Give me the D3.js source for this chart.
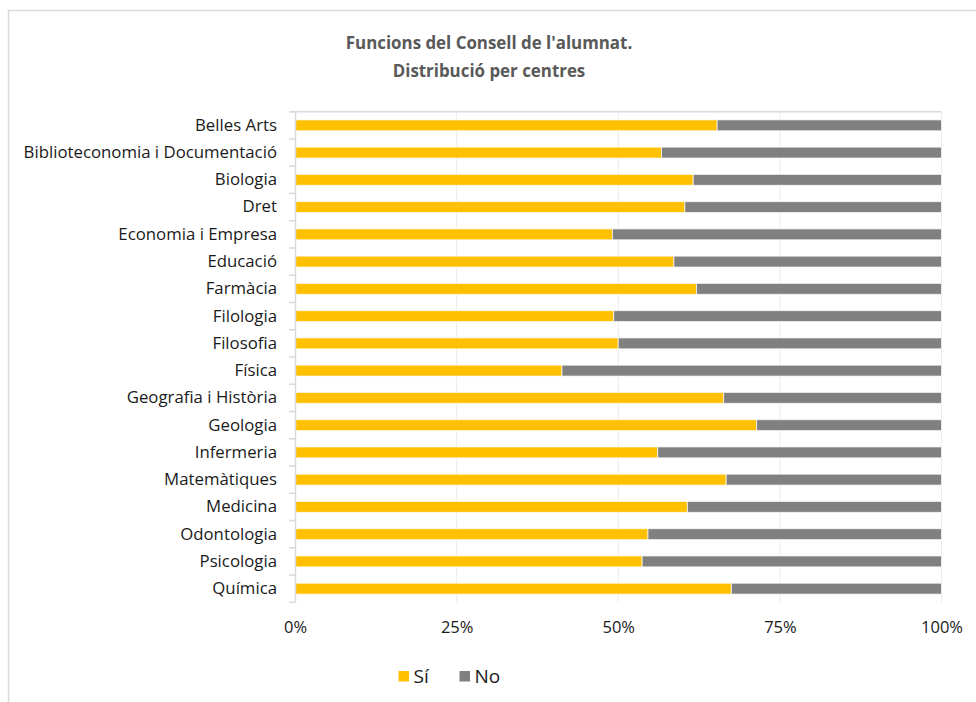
<!DOCTYPE html>
<html>
<head>
<meta charset="utf-8">
<script src="https://cdn.jsdelivr.net/npm/d3@7"></script>
<style>
  html, body { margin: 0; padding: 0; background: #fff; }
  svg { display: block; font-family: "Open Sans", "Noto Sans", sans-serif; }
</style>
</head>
<body>
<svg id="chart" width="976" height="702"></svg>
<script>
const categories = [
  "Belles Arts", "Biblioteconomia i Documentació", "Biologia", "Dret",
  "Economia i Empresa", "Educació", "Farmàcia", "Filologia", "Filosofia",
  "Física", "Geografia i Història", "Geologia", "Infermeria", "Matemàtiques",
  "Medicina", "Odontologia", "Psicologia", "Química"
];
const siValues = [65.3, 56.7, 61.6, 60.3, 49.1, 58.6, 62.1, 49.3, 50.0, 41.3, 66.3, 71.4, 56.1, 66.7, 60.7, 54.6, 53.7, 67.5];
const noValues = siValues.map(v => 100 - v);
const seriesNames = ["Sí", "No"];
const seriesColors = ["#FFC000", "#808080"];
const xTicks = [0, 25, 50, 75, 100];
const titleLines = ["Funcions del Consell de l'alumnat.", "Distribució per centres"];

const svg = d3.select("#chart");

// outer chart border
svg.append("rect")
  .attr("x", 8.5).attr("y", 10.5)
  .attr("width", 1000).attr("height", 1000)
  .attr("fill", "none").attr("stroke", "#d9d9d9").attr("stroke-width", 1.5);

const plot = { left: 295, right: 941.5, top: 111.7, bottom: 602.3 };

const x = d3.scaleLinear().domain([0, 100]).range([plot.left, plot.right]);
const y = d3.scaleBand().domain(categories).range([plot.top, plot.bottom]).paddingInner(0.6).paddingOuter(0.3);

// title
svg.append("g").selectAll("text").data(titleLines).join("text")
  .attr("x", 489).attr("y", (d, i) => 49 + i * 28)
  .attr("text-anchor", "middle")
  .attr("font-size", 16.9).attr("font-weight", "bold")
  .attr("fill", "#595959")
  .text(d => d);

// vertical gridlines
svg.append("g").selectAll("line").data(xTicks.filter(t => t > 0)).join("line")
  .attr("x1", d => x(d)).attr("x2", d => x(d))
  .attr("y1", plot.top).attr("y2", plot.bottom)
  .attr("stroke", "#ececec").attr("stroke-width", 1);

// top border line of plot
svg.append("line")
  .attr("x1", plot.left - 6).attr("x2", plot.right)
  .attr("y1", plot.top).attr("y2", plot.top)
  .attr("stroke", "#d9d9d9").attr("stroke-width", 1.5);

// stacked data
const stackData = categories.map((c, i) => ({ cat: c, "Sí": siValues[i], "No": noValues[i] }));
const stacked = d3.stack().keys(seriesNames)(stackData);

svg.append("g").selectAll("g").data(stacked).join("g")
  .attr("fill", (d, i) => seriesColors[i])
  .selectAll("rect").data(d => d).join("rect")
  .attr("x", d => x(d[0]))
  .attr("width", d => x(d[1]) - x(d[0]))
  .attr("y", d => y(d.data.cat))
  .attr("height", y.bandwidth())
  .attr("stroke", "#ffffff").attr("stroke-opacity", 0.7).attr("stroke-width", 1);

// y axis
const yAxisScale = d3.scaleBand().domain(categories).range([plot.top, plot.bottom]);
const yAxis = svg.append("g")
  .attr("transform", `translate(${plot.left},0)`)
  .call(d3.axisLeft(yAxisScale).tickSize(0).tickPadding(18));
yAxis.select(".domain").attr("stroke", "#d9d9d9").attr("stroke-width", 1.5);
yAxis.selectAll("text").attr("font-size", 16.8).attr("fill", "#1a1a1a")
  .attr("font-family", "'Open Sans', sans-serif");

// y tick marks at band boundaries
const boundaries = d3.range(categories.length + 1).map(i => plot.top + i * yAxisScale.step());
svg.append("g").selectAll("line").data(boundaries).join("line")
  .attr("x1", plot.left - 6).attr("x2", plot.left)
  .attr("y1", d => d).attr("y2", d => d)
  .attr("stroke", "#d9d9d9").attr("stroke-width", 1.5);

// x axis labels
const xAxis = svg.append("g")
  .attr("transform", `translate(0,${plot.bottom})`)
  .call(d3.axisBottom(x).tickValues(xTicks).tickFormat(d => d + "%").tickSize(0).tickPadding(19));
xAxis.select(".domain").remove();
xAxis.selectAll("text").attr("font-size", 16.5).attr("fill", "#1a1a1a")
  .attr("font-family", "'Open Sans', sans-serif");

// legend
const legendItems = [
  { name: seriesNames[0], color: seriesColors[0], x: 398.5 },
  { name: seriesNames[1], color: seriesColors[1], x: 459.5 }
];
const lg = svg.append("g").selectAll("g").data(legendItems).join("g")
  .attr("transform", d => `translate(${d.x},671)`);
lg.append("rect").attr("width", 10.5).attr("height", 10.5).attr("fill", d => d.color);
lg.append("text").attr("x", 15).attr("y", 11.5)
  .attr("font-size", 19).attr("fill", "#1a1a1a")
  .text(d => d.name);
</script>
</body>
</html>
